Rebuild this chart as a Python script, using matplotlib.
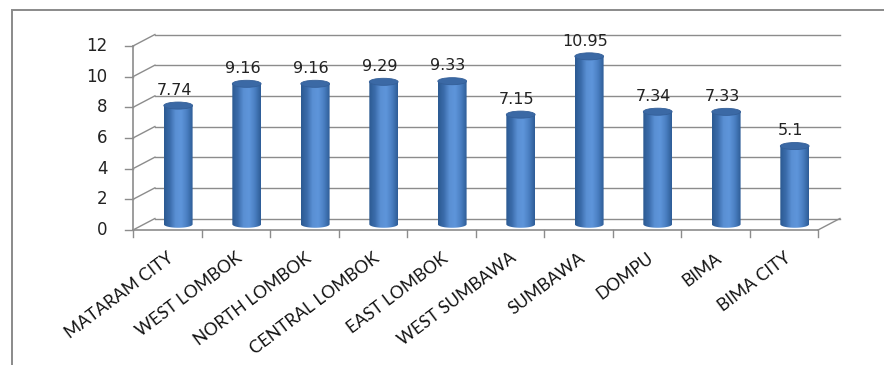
import numpy as np
import matplotlib.pyplot as plt
from matplotlib.patches import Ellipse, Rectangle
from matplotlib.path import Path
from matplotlib.colors import LinearSegmentedColormap

regions = ["MATARAM CITY", "WEST LOMBOK", "NORTH LOMBOK", "CENTRAL LOMBOK",
           "EAST LOMBOK", "WEST SUMBAWA", "SUMBAWA", "DOMPU", "BIMA", "BIMA CITY"]
values = [7.74, 9.16, 9.16, 9.29, 9.33, 7.15, 10.95, 7.34, 7.33, 5.1]
value_labels = ["7.74", "9.16", "9.16", "9.29", "9.33", "7.15", "10.95", "7.34", "7.33", "5.1"]
y_ticks = [0, 2, 4, 6, 8, 10, 12]

# oblique depth of the fake 3d box (data units)
DX, DY = 0.32, 0.75
GRID = "#8c8c8c"

fig = plt.figure(figsize=(8.84, 3.65), dpi=100)
ax = fig.add_axes([133 / 884, 135 / 365, 685 / 884, 184 / 365])
ax.set_xlim(-0.5, len(regions) - 0.5)
ax.set_ylim(0, 12)
ax.set_axis_off()

# outer chart frame
fig.patches.append(Rectangle((12 / 884, -0.1), 1.2, (355 / 365) + 0.1,
                             transform=fig.transFigure, fill=False,
                             edgecolor="#8a8a8a", linewidth=1.4))

n = len(regions)
x0, x1 = -0.5, n - 0.5

# back wall gridlines and side wall obliques
for v in y_ticks:
    ax.plot([x0 + DX, x1 + DX], [v + DY, v + DY], color=GRID, lw=1.0, clip_on=False, zorder=1)
    ax.plot([x0, x0 + DX], [v, v + DY], color=GRID, lw=1.0, clip_on=False, zorder=1)
    ax.plot([x0 - 0.11, x0], [v, v], color=GRID, lw=1.0, clip_on=False, zorder=1)
    ax.text(x0 - 0.37, v, str(v), ha="right", va="center", fontsize=12,
            family="DejaVu Sans", color="#222222")

# front axes and floor
ax.plot([x0, x0], [0, 12], color=GRID, lw=1.2, clip_on=False, zorder=2)
ax.plot([x0, x1], [0, 0], color=GRID, lw=1.2, clip_on=False, zorder=2)
ax.plot([x1, x1 + DX], [0, DY], color=GRID, lw=1.0, clip_on=False, zorder=1)
for k in range(n + 1):
    ax.plot([k - 0.5, k - 0.5], [0, -0.45], color=GRID, lw=1.0, clip_on=False, zorder=2)

# cylinder bars
cmap = LinearSegmentedColormap.from_list(
    "cyl", ["#2c5a92", "#3b6cab", "#5a90d4", "#5e95da", "#4a7fc2", "#2e5d97"])
grad = cmap(np.linspace(0, 1, 64))[None, :, :]
w = 0.42
eh = 0.46
for i, v in enumerate(values):
    cx = i + DX / 2
    yb = DY / 2
    yt = v + DY / 2
    xl, xr = cx - w / 2, cx + w / 2
    t = np.linspace(np.pi, 2 * np.pi, 40)
    arc = np.column_stack([cx + w / 2 * np.cos(t), yb + eh / 2 * np.sin(t)])
    verts = np.vstack([[xl, yt], arc, [xr, yt], [xl, yt]])
    codes = [Path.MOVETO] + [Path.LINETO] * (len(verts) - 2) + [Path.CLOSEPOLY]
    body = Path(verts, codes)
    im = ax.imshow(grad, extent=(xl, xr, yb - eh, yt), aspect="auto",
                   zorder=3, interpolation="bilinear")
    im.set_clip_path(body, transform=ax.transData)
    ax.add_patch(Ellipse((cx, yt), w, eh, facecolor="#3b69a5",
                         edgecolor="#345f98", lw=0.6, zorder=4))
    ax.text(i + 0.1, yt + 1.0, value_labels[i], ha="center", va="center",
            fontsize=11.5, family="DejaVu Sans", color="#222222", zorder=5)

# category labels
for i, name in enumerate(regions):
    ax.text(i, -1.3, name, rotation=37, rotation_mode="anchor", ha="right",
            va="top", fontsize=12.5, family="Lato", color="#111111")

ax.set_aspect("auto")
fig.savefig("out.png", dpi=100)
